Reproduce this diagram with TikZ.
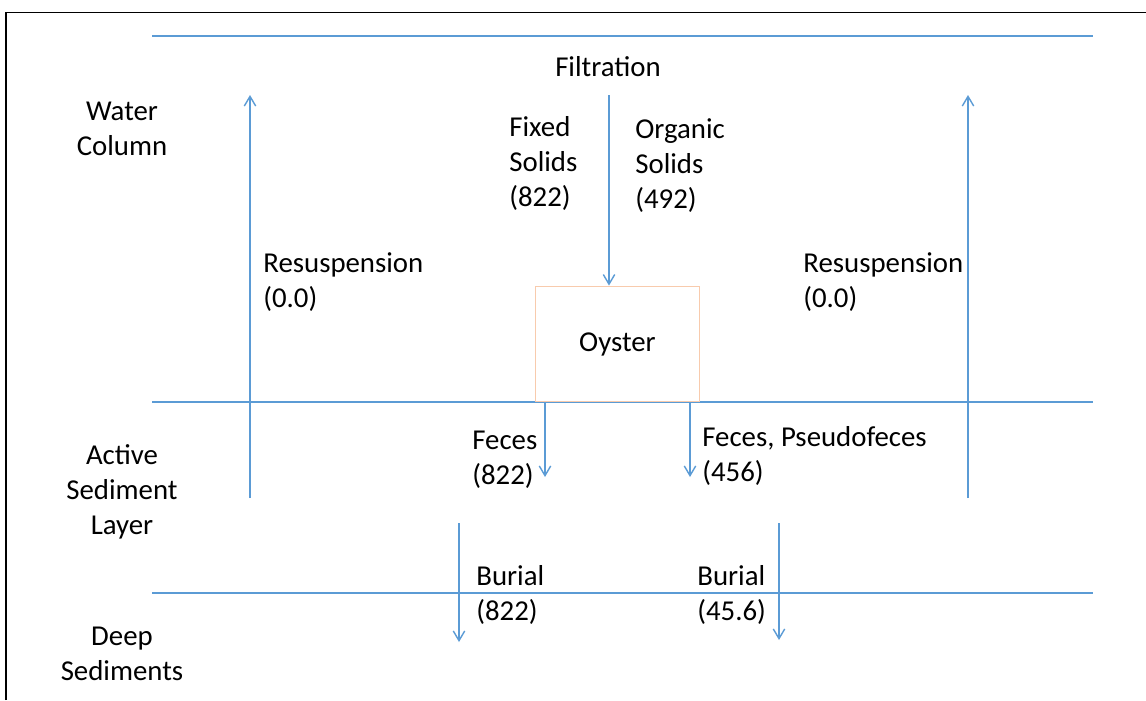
\documentclass[tikz,border=0pt]{standalone}
\usepackage{fontspec}
\setmainfont{Carlito}
\usetikzlibrary{arrows.meta}
\definecolor{lineblue}{RGB}{91,155,213}
\definecolor{boxorange}{RGB}{248,203,173}

\begin{document}
\begin{tikzpicture}[x = 0.02cm, y = -0.02cm,
    layer/.style = {draw = lineblue, line width = 0.8pt},
    flow/.style = {draw = lineblue, line width = 0.8pt, -{Straight Barb[length = 5.5pt, width = 6.5pt]}},
    lbl/.style = {inner sep = 0pt, align = left, anchor = base west, font = \fontsize{16.4}{19.8}\selectfont},
    zone/.style = {inner sep = 0pt, align = center, anchor = base, font = \fontsize{16.4}{19.8}\selectfont},
    oysterbox/.style = {draw = boxorange, line width = 0.8pt, fill = white, minimum width = 3.27cm, minimum height = 2.31cm, font = \fontsize{16.4}{19.8}\selectfont}]
    \useasboundingbox (0,0) rectangle (1146,700);

    % frame
    \draw[line width = 1.1pt] (6,700) -- (6,12.5) -- (1146,12.5);

    % layer boundaries
    \draw[layer] (152,36) -- (1093,36);
    \draw[layer] (152,402) -- (1093,402);
    \draw[layer] (152,593) -- (1093,593);

    % oyster
    \node[oysterbox] (oyster) at (617.5,344) {Oyster};

    % zone names (base = last line)
    \node[zone] (water) at (122,155) {Water\\Column};
    \node[zone] (active) at (122,534) {Active\\Sediment\\Layer};
    \node[zone] (deep) at (122,680) {Deep\\Sediments};

    % flow labels
    \node[zone] (filt) at (608,76) {Filtration};
    \node[lbl] (fixed) at (509,206) {Fixed\\Solids\\(822)};
    \node[lbl] (organic) at (635,208) {Organic\\Solids\\(492)};
    \node[lbl] (resusL) at (263,307) {Resuspension\\(0.0)};
    \node[lbl] (resusR) at (803,307) {Resuspension\\(0.0)};
    \node[lbl] (feces) at (472,484) {Feces\\(822)};
    \node[lbl] (pseudo) at (702,481) {Feces, Pseudofeces\\(456)};
    \node[lbl] (burialL) at (476,620) {Burial\\(822)};
    \node[lbl] (burialR) at (697,620) {Burial\\(45.6)};

    % arrow ends
    \coordinate (filtTop) at (609,95);
    \coordinate (resusLbot) at (250,498);
    \coordinate (resusLtop) at (250,95);
    \coordinate (resusRbot) at (968,498);
    \coordinate (resusRtop) at (968,95);
    \coordinate (fecesEnd) at (545,477);
    \coordinate (pseudoEnd) at (690,477);
    \coordinate (burLtop) at (459,523);
    \coordinate (burLend) at (459,642);
    \coordinate (burRtop) at (779,523);
    \coordinate (burRend) at (779,640);

    % flows
    \draw[flow] (filtTop) -- (oyster.north -| filtTop);
    \draw[flow] (resusLbot) -- (resusLtop);
    \draw[flow] (resusRbot) -- (resusRtop);
    \draw[flow] (oyster.south -| fecesEnd) -- (fecesEnd);
    \draw[flow] (oyster.south -| pseudoEnd) -- (pseudoEnd);
    \draw[flow] (burLtop) -- (burLend);
    \draw[flow] (burRtop) -- (burRend);

\end{tikzpicture}
\end{document}
